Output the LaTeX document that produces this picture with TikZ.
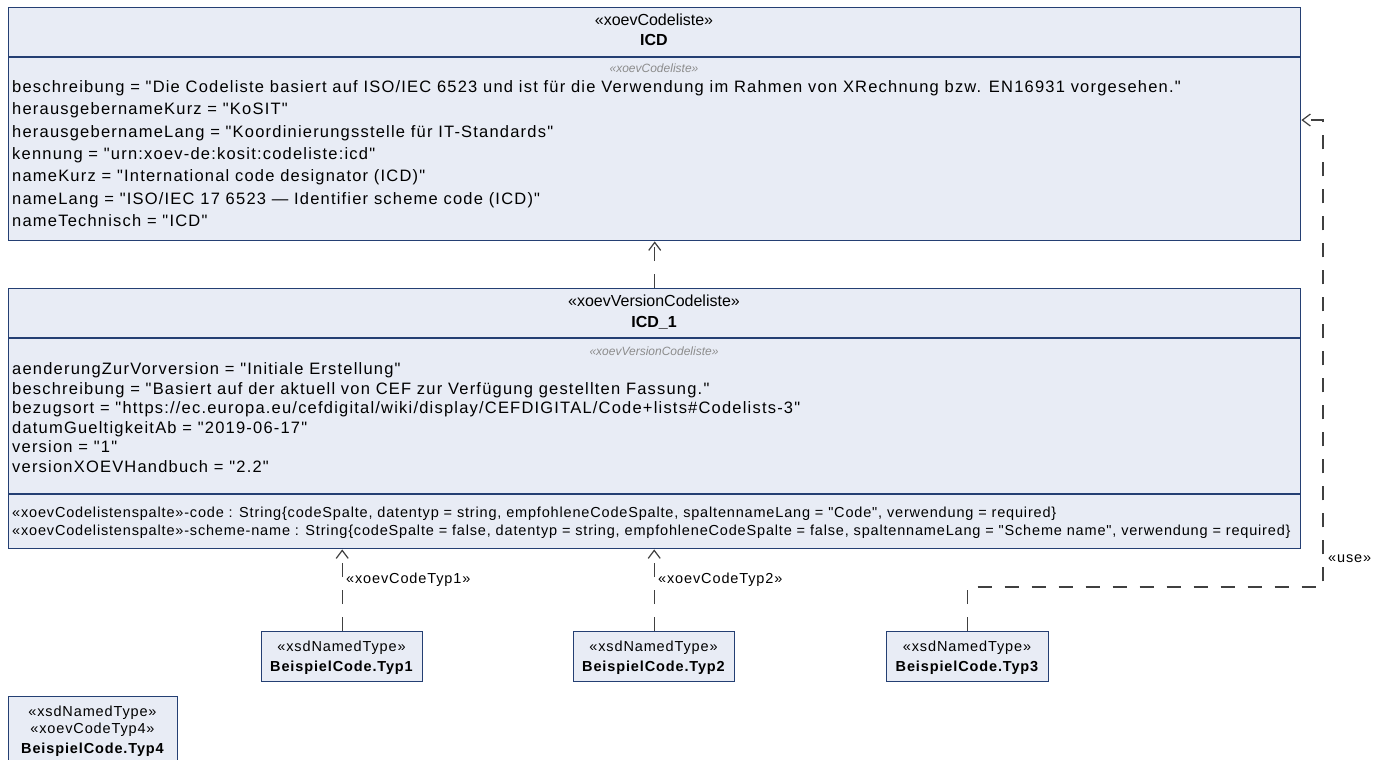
\documentclass[tikz,border=0pt]{standalone}
\usepackage{fontspec}
\setmainfont{Liberation Sans}[Ligatures=TeXOff]
\newfontfamily\attrfam{Liberation Sans}[LetterSpace=7.3]
\newfontfamily\opfam{Liberation Sans}[LetterSpace=5.7]
\newfontfamily\smallfam{Liberation Sans}[LetterSpace=6]
\usetikzlibrary{arrows.meta}
\definecolor{boxfill}{HTML}{E8ECF5}
\definecolor{boxdraw}{HTML}{243F73}
\definecolor{linegray}{HTML}{404040}
\definecolor{stgray}{HTML}{8C8C8C}
\newcommand{\attrfont}{\attrfam\fontsize{16.5}{19.5}\selectfont}
\newcommand{\hdrfont}{\fontsize{16}{19}\selectfont}
\newcommand{\opfont}{\opfam\fontsize{14.5}{17}\selectfont}
\newcommand{\smallfont}{\smallfam\fontsize{14.5}{17}\selectfont}
\tikzset{
  umlbox/.style={draw=boxdraw, fill=boxfill, line width=1.4pt, inner sep=0pt, anchor=north west},
  sepline/.style={draw=boxdraw, line width=1.2pt},
  hdr/.style={inner sep=0pt, anchor=base, font=\hdrfont},
  hdrbold/.style={inner sep=0pt, anchor=base, font=\hdrfont\bfseries},
  grayst/.style={inner sep=0pt, anchor=base, text=stgray, font=\fontsize{12}{14}\selectfont\itshape},
  attr/.style={inner sep=0pt, anchor=base west, font=\attrfont},
  oper/.style={inner sep=0pt, anchor=base west, font=\opfont},
  smalltxt/.style={inner sep=0pt, anchor=base, font=\smallfont},
  smallbold/.style={inner sep=0pt, anchor=base, font=\smallfont\bfseries},
  lbl/.style={inner sep=0pt, anchor=base west, font=\smallfont},
  dep/.style={draw=linegray, line width=1.2pt, dash pattern=on 14pt off 13pt,
    -{Straight Barb[length=8pt,width=12pt,line width=1.2pt]}},
}
\begin{document}
\begin{tikzpicture}[x=1pt,y=-1pt]
\fill[white] (0,0) rectangle (1384,760);
\useasboundingbox (0,0) rectangle (1384,760);

% ---------------- ICD ----------------
\node[umlbox, minimum width=1292pt, minimum height=233pt] (icd) at (8,7) {};
\draw[sepline] (8,57) -- (1300,57);
\node[hdr] (icdst) at (654,25.5) {«xoevCodeliste»};
\node[hdrbold] (icdname) at (654,46) {ICD};
\node[grayst] (icdgray) at (654,73) {«xoevCodeliste»};
\node[attr] (icda1) at (12,92.5) {beschreibung = "Die Codeliste basiert auf ISO/IEC 6523 und ist für die Verwendung im Rahmen von XRechnung bzw. EN16931 vorgesehen."};
\node[attr] (icda2) at (12,114.8) {herausgebernameKurz = "KoSIT"};
\node[attr] (icda3) at (12,137.1) {herausgebernameLang = "Koordinierungsstelle für IT-Standards"};
\node[attr] (icda4) at (12,159.4) {kennung = "urn:xoev-de:kosit:codeliste:icd"};
\node[attr] (icda5) at (12,181.7) {nameKurz = "International code designator (ICD)"};
\node[attr] (icda6) at (12,204) {nameLang = "ISO/IEC 17 6523 — Identifier scheme code (ICD)"};
\node[attr] (icda7) at (12,226.3) {nameTechnisch = "ICD"};

% ---------------- ICD_1 ----------------
\node[umlbox, minimum width=1292pt, minimum height=260pt] (icd1) at (8,288) {};
\draw[sepline] (8,338) -- (1300,338);
\draw[sepline] (8,494) -- (1300,494);
\node[hdr] (icd1st) at (654,306.5) {«xoevVersionCodeliste»};
\node[hdrbold] (icd1name) at (654,327) {ICD\_1};
\node[grayst] (icd1gray) at (654,355) {«xoevVersionCodeliste»};
\node[attr] (icd1a1) at (12,374.5) {aenderungZurVorversion = "Initiale Erstellung"};
\node[attr] (icd1a2) at (12,394) {beschreibung = "Basiert auf der aktuell von CEF zur Verfügung gestellten Fassung."};
\node[attr] (icd1a3) at (12,413.5) {bezugsort = "https://ec.europa.eu/cefdigital/wiki/display/CEFDIGITAL/Code+lists\#Codelists-3"};
\node[attr] (icd1a4) at (12,433) {datumGueltigkeitAb = "2019-06-17"};
\node[attr] (icd1a5) at (12,452.5) {version = "1"};
\node[attr] (icd1a6) at (12,472) {versionXOEVHandbuch = "2.2"};
\node[oper] (icd1o1) at (12,517) {«xoevCodelistenspalte»-code : String\{codeSpalte, datentyp = string, empfohleneCodeSpalte, spaltennameLang = "Code", verwendung = required\}};
\node[oper] (icd1o2) at (12,535) {«xoevCodelistenspalte»-scheme-name : String\{codeSpalte = false, datentyp = string, empfohleneCodeSpalte = false, spaltennameLang = "Scheme name", verwendung = required\}};

% ---------------- small types ----------------
\node[umlbox, minimum width=161pt, minimum height=50pt] (typ1) at (261,631) {};
\node[smalltxt] (typ1st) at (341.5,651) {«xsdNamedType»};
\node[smallbold] (typ1name) at (341.5,671) {BeispielCode.Typ1};

\node[umlbox, minimum width=161pt, minimum height=50pt] (typ2) at (573,631) {};
\node[smalltxt] (typ2st) at (653.5,651) {«xsdNamedType»};
\node[smallbold] (typ2name) at (653.5,671) {BeispielCode.Typ2};

\node[umlbox, minimum width=162pt, minimum height=50pt] (typ3) at (886,631) {};
\node[smalltxt] (typ3st) at (967,651) {«xsdNamedType»};
\node[smallbold] (typ3name) at (967,671) {BeispielCode.Typ3};

\node[umlbox, minimum width=169pt, minimum height=68pt] (typ4) at (8,696) {};
\node[smalltxt] (typ4st) at (92.5,716) {«xsdNamedType»};
\node[smalltxt] (typ4st2) at (92.5,733) {«xoevCodeTyp4»};
\node[smallbold] (typ4name) at (92.5,753) {BeispielCode.Typ4};

% ---------------- connectors ----------------
\draw[dep] (icd1.north) -- (icd.south);
\draw[dep] (typ1.north) -- (typ1.north |- icd1.south);
\draw[dep] (typ2.north) -- (typ2.north |- icd1.south);
\coordinate (u1) at (1323,587);
\coordinate (u2) at (1323,120);
\draw[dep] (typ3.north) -- (typ3.north |- u1) -- (u1) -- (u2) -- (u2 -| icd.east);

\node[lbl] (lab1) at (346,583) {«xoevCodeTyp1»};
\node[lbl] (lab2) at (658,583) {«xoevCodeTyp2»};
\node[lbl] (labuse) at (1328,562) {«use»};
\end{tikzpicture}
\end{document}
